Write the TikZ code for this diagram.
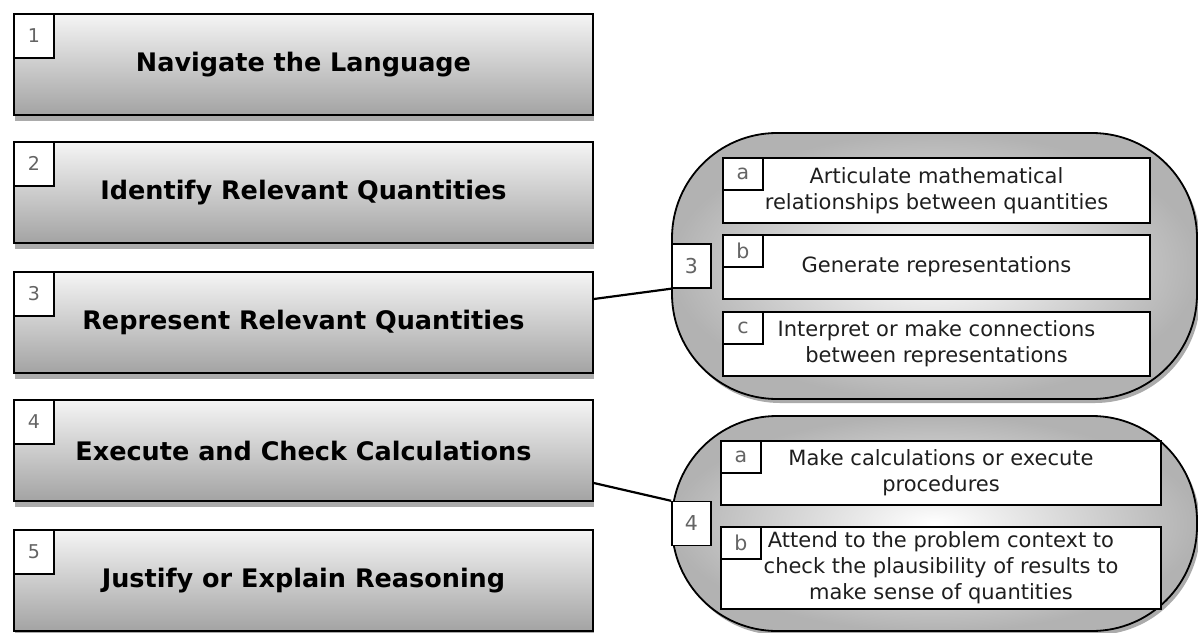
\documentclass[tikz,border=0pt]{standalone}
\usepackage{fontspec}
\setmainfont{DejaVu Sans}
\usepackage{tikz}
\usetikzlibrary{positioning,shadows}
\definecolor{tagtext}{RGB}{100,100,100}
\definecolor{bodytext}{RGB}{30,30,30}

\tikzset{
  stagebox/.style={draw=black, line width=1.6pt, top color=white!96!black, bottom color=white!64!black,
    minimum width=579pt, minimum height=101pt, inner sep=0pt,
    font=\fontsize{25.5}{30}\selectfont\bfseries,
    drop shadow={shadow xshift=1pt, shadow yshift=-6pt, fill=black!60, opacity=0.55}},
  numtag/.style={draw=black, line width=1.4pt, fill=white, minimum width=40pt, minimum height=44pt,
    inner sep=0pt, text=tagtext, font=\fontsize{19}{22}\selectfont},
  groupbox/.style={draw=black, line width=1.8pt, rounded corners=105pt, inner color=white,
    outer color=white!70!black, minimum width=525pt, inner sep=0pt,
    drop shadow={shadow xshift=3pt, shadow yshift=-4pt, fill=black!60, opacity=0.55}},
  grouptag/.style={draw=black, line width=1.4pt, fill=white, minimum width=39pt, minimum height=44pt,
    inner sep=0pt, text=tagtext, font=\fontsize{20.5}{24}\selectfont},
  subbox/.style={draw=black, line width=1.5pt, fill=white, inner sep=0pt, align=center,
    text=bodytext, font=\fontsize{21}{26}\selectfont},
  lettertag/.style={draw=black, line width=1.3pt, fill=white, minimum width=40pt, minimum height=32pt,
    inner sep=0pt, text=tagtext, font=\fontsize{20.5}{24}\selectfont},
  link/.style={draw=black, line width=2.2pt}
}

\begin{document}
\begin{tikzpicture}[x=1pt, y=-1pt]
  \useasboundingbox (0,0) rectangle (1198,632);
  % Five stages
  \node[stagebox] (nav) at (303.5,64.5) {Navigate the Language};
  \node[stagebox] (ident) at (303.5,192.5) {Identify Relevant Quantities};
  \node[stagebox] (repr) at (303.5,322.5) {Represent Relevant Quantities};
  \node[stagebox] (exec) at (303.5,450.5) {Execute and Check Calculations};
  \node[stagebox] (just) at (303.5,580.5) {Justify or Explain Reasoning};
  \node[numtag, anchor=north west] (n1) at (nav.north west) {1};
  \node[numtag, anchor=north west] (n2) at (ident.north west) {2};
  \node[numtag, anchor=north west] (n3) at (repr.north west) {3};
  \node[numtag, anchor=north west] (n4) at (exec.north west) {4};
  \node[numtag, anchor=north west] (n5) at (just.north west) {5};

  % Sub-skills of stage 3
  \node[groupbox, minimum height=266pt] (grp3) at (934.5,266) {};
  \node[subbox, minimum width=427pt, minimum height=65pt] (repa) at (936.5,190.5)
    {Articulate mathematical\\relationships between quantities};
  \node[subbox, minimum width=427pt, minimum height=64pt] (repb) at (936.5,267)
    {Generate representations};
  \node[subbox, minimum width=427pt, minimum height=64pt] (repc) at (936.5,344)
    {Interpret or make connections\\between representations};
  \node[lettertag, anchor=north west] at (repa.north west) {a};
  \node[lettertag, anchor=north west] at (repb.north west) {b};
  \node[lettertag, anchor=north west] at (repc.north west) {c};
  \node[grouptag, anchor=west] (g3) at (grp3.west) {3};

  % Sub-skills of stage 4
  \node[groupbox, minimum height=215pt] (grp4) at (934.5,523.5) {};
  \node[subbox, minimum width=440pt, minimum height=64pt] (exa) at (941,473)
    {Make calculations or execute\\procedures};
  \node[subbox, minimum width=440pt, minimum height=82pt] (exb) at (941,568)
    {Attend to the problem context to\\check the plausibility of results to\\make sense of quantities};
  \node[lettertag, anchor=north west] at (exa.north west) {a};
  \node[lettertag, anchor=north west] at (exb.north west) {b};
  \node[grouptag, anchor=west] (g4) at (grp4.west) {4};

  % Links
  \draw[link] ([yshift=23.5pt]repr.east) -- (g3.south west);
  \draw[link] ([yshift=-32.5pt]exec.east) -- (g4.north west);
\end{tikzpicture}
\end{document}
